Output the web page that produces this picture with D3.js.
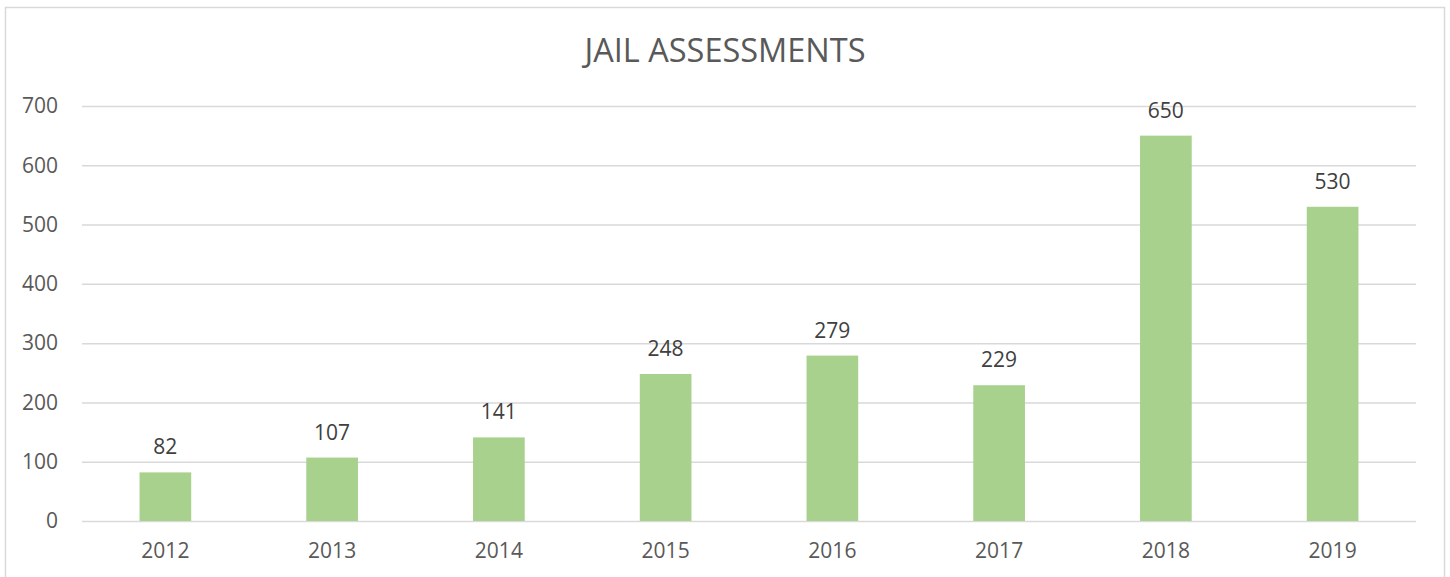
<!DOCTYPE html>
<html>
<head>
<meta charset="utf-8">
<script src="https://cdn.jsdelivr.net/npm/d3@7"></script>
<style>
    body { margin: 0; background: #fff; }
    svg { display: block; font-family: "Open Sans", sans-serif; }
</style>
</head>
<body>
<div id="plot"></div>
<script>
// Chart data.
var years = ["2012", "2013", "2014", "2015", "2016", "2017", "2018", "2019"];
var assessments = [82, 107, 141, 248, 279, 229, 650, 530];
var y_ticks = [0, 100, 200, 300, 400, 500, 600, 700];
var chart_title = "JAIL ASSESSMENTS";

var width = 1450, height = 577;
var text_color = "#595959", grid_color = "#d9d9d9", bar_color = "#a9d18e";

var svg = d3.select("div#plot").append("svg")
    .attr("width", width)
    .attr("height", height);

// Outer chart frame (bottom edge runs off the page).
svg.append("rect")
    .attr("x", 5.5).attr("y", 7.5)
    .attr("width", 1439).attr("height", 600)
    .style("fill", "none")
    .style("stroke", grid_color)
    .style("stroke-width", 1.5);

var x_scale = d3.scaleBand()
    .domain(years)
    .range([82, 1416])
    .paddingInner(0.69)
    .paddingOuter(0.345);

var y_scale = d3.scaleLinear()
    .domain([0, 700])
    .range([521, 106]);

// Title
svg.append("text")
    .attr("x", 725).attr("y", 62)
    .attr("text-anchor", "middle")
    .style("font-size", "32.5px")
    .style("fill", text_color)
    .text(chart_title);

// Gridlines + y labels
var y_axis = d3.axisLeft(y_scale)
    .tickValues(y_ticks)
    .tickSize(-(1416 - 82))
    .tickPadding(24);

var g_y_axis = svg.append("g")
    .attr("id", "y_axis")
    .attr("transform", "translate(82, 0)")
    .call(y_axis);

g_y_axis.select(".domain").remove();
g_y_axis.selectAll(".tick line")
    .style("stroke", grid_color)
    .style("stroke-width", 1.5);
g_y_axis.selectAll(".tick text")
    .style("font-size", "21px")
    .style("font-family", "Open Sans, sans-serif")
    .style("fill", text_color);

// Bars
svg.append("g").attr("id", "bars")
    .selectAll("rect")
    .data(assessments)
    .join("rect")
        .attr("x", (d, i) => x_scale(years[i]))
        .attr("y", d => y_scale(d))
        .attr("width", x_scale.bandwidth())
        .attr("height", d => y_scale(0) - y_scale(d))
        .style("fill", bar_color);

// Value labels
svg.append("g").attr("id", "labels")
    .selectAll("text")
    .data(assessments)
    .join("text")
        .attr("x", (d, i) => x_scale(years[i]) + x_scale.bandwidth() / 2)
        .attr("y", d => y_scale(d) - 18)
        .attr("text-anchor", "middle")
        .style("font-size", "21px")
        .style("fill", "#404040")
        .text(d => d);

// X axis labels
var x_axis = d3.axisBottom(x_scale).tickSize(0).tickPadding(22);
var g_x_axis = svg.append("g")
    .attr("id", "x_axis")
    .attr("transform", "translate(0, 521)")
    .call(x_axis);
g_x_axis.select(".domain").remove();
g_x_axis.selectAll(".tick text")
    .style("font-size", "21px")
    .style("font-family", "Open Sans, sans-serif")
    .style("fill", text_color);
</script>
</body>
</html>
